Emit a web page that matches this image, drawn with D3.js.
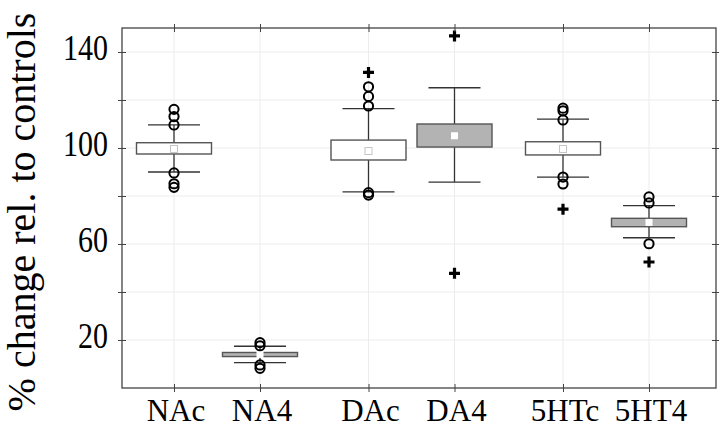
<!DOCTYPE html>
<html><head><meta charset="utf-8">
<script src="https://cdn.jsdelivr.net/npm/d3@7"></script>
<style>body{margin:0;background:#fff}svg{display:block}</style>
</head><body>
<script>
const categories = ["NAc","NA4","DAc","DA4","5HTc","5HT4"];
const boxLow   = [97.5, 13.1, 95.0, 100.4, 97.1, 67.2];
const boxHigh  = [102.2, 14.8, 103.3, 110.0, 102.6, 70.7];
const means    = [99.6, 14.0, 98.75, 105.1, 99.6, 69.0];
const whiskerLow  = [90.0, 10.6, 81.7, 85.8, 87.9, 62.6];
const whiskerHigh = [109.6, 17.4, 116.4, 125.1, 112.0, 76.0];
const outliers = [
  [116.1, 113.1, 109.6, 89.6, 85.1, 83.6],
  [18.9, 17.6, 9.6, 8.2],
  [125.5, 121.5, 117.5, 81.4, 80.4],
  [],
  [116.6, 115.5, 111.7, 87.9, 85.0],
  [79.6, 77.1, 60.1]
];
const extremes = [[], [], [131.5], [146.7, 47.8], [74.5], [52.5]];
const yTicks = [20, 40, 60, 80, 100, 120, 140];
const yTickLabels = [20, 60, 100, 140];
const yLabel = "% change rel. to controls";

const W = 720, H = 427;
const L = 122, R = 716, T = 28, B = 388;
const svg = d3.select("body").append("svg").attr("width", W).attr("height", H);

const groups = Array.from(new Set(categories.map(c => c.slice(0, -1))));
const members = Array.from(new Set(categories.map(c => c.slice(-1))));
const gx = d3.scalePoint().domain(groups).range([217, 606]);
const mx = d3.scalePoint().domain(members).range([-43, 43]);
const xOf = c => gx(c.slice(0, -1)) + mx(c.slice(-1));
const y = d3.scaleLinear().domain([0, 150]).range([B, T]);

const serif = "'Liberation Serif','Times New Roman',serif";

// grid
const grid = svg.append("g").attr("stroke", "#ececec").attr("stroke-width", 1);
grid.selectAll("line.h").data(yTicks).join("line")
  .attr("x1", L).attr("x2", R).attr("y1", d => y(d)).attr("y2", d => y(d));
grid.selectAll("line.v").data(categories).join("line")
  .attr("x1", d => xOf(d)).attr("x2", d => xOf(d)).attr("y1", T).attr("y2", B);

const data = categories.map((c, i) => ({
  c, i, treated: c.endsWith("4"), bl: boxLow[i], bh: boxHigh[i], m: means[i],
  wl: whiskerLow[i], wh: whiskerHigh[i], out: outliers[i], ext: extremes[i]
}));

const boxW = 75, capW = 52;
const g = svg.append("g").selectAll("g").data(data).join("g")
  .attr("transform", d => `translate(${xOf(d.c)},0)`);

g.append("line").attr("x1", 0).attr("x2", 0)
  .attr("y1", d => y(d.wl)).attr("y2", d => y(d.wh))
  .attr("stroke", "#333").attr("stroke-width", 1.3);
g.selectAll("line.cap").data(d => [d.wl, d.wh]).join("line")
  .attr("x1", -capW / 2).attr("x2", capW / 2)
  .attr("y1", v => y(v)).attr("y2", v => y(v))
  .attr("stroke", "#333").attr("stroke-width", 1.3);
g.append("rect")
  .attr("x", -boxW / 2).attr("width", boxW)
  .attr("y", d => y(d.bh)).attr("height", d => y(d.bl) - y(d.bh))
  .attr("fill", d => d.treated ? "#b3b3b3" : "#fff")
  .attr("stroke", "#555").attr("stroke-width", 1.4);
g.append("rect")
  .attr("x", -3.5).attr("width", 7)
  .attr("y", d => y(d.m) - 3.5).attr("height", 7)
  .attr("fill", "#fff")
  .attr("stroke", d => d.treated ? "none" : "#c4c4c4").attr("stroke-width", 1);
g.selectAll("circle").data(d => d.out).join("circle")
  .attr("cx", 0).attr("cy", v => y(v)).attr("r", 4.6)
  .attr("fill", "none").attr("stroke", "#000").attr("stroke-width", 2);
g.selectAll("path.plus").data(d => d.ext).join("path")
  .attr("d", v => `M-5.5,${y(v)}H5.5M0,${y(v) - 5.5}V${y(v) + 5.5}`)
  .attr("stroke", "#000").attr("stroke-width", 3.2);

// frame
svg.append("rect").attr("x", L).attr("y", T).attr("width", R - L).attr("height", B - T)
  .attr("fill", "none").attr("stroke", "#444").attr("stroke-width", 1.3);

// left axis
const ax = svg.append("g").attr("transform", `translate(${L},0)`)
  .call(d3.axisLeft(y).tickValues(yTicks).tickSize(4).tickPadding(10)
    .tickFormat(d => yTickLabels.includes(d) ? d : ""));
ax.select(".domain").remove();
ax.selectAll(".tick line").attr("x1", 4).attr("stroke", "#444");
ax.selectAll(".tick text").attr("font-family", serif).attr("font-size", 30)
  .attr("fill", "#000").attr("dy", "0.22em").attr("transform", "scale(1,1.2)");

// right axis
const ar = svg.append("g").attr("transform", `translate(${R},0)`)
  .call(d3.axisRight(y).tickValues(yTicks).tickSize(3).tickFormat(""));
ar.select(".domain").remove();
ar.selectAll(".tick line").attr("x1", -4).attr("stroke", "#444");

// top/bottom category ticks
const xs = d3.scaleOrdinal().domain(categories).range(categories.map(xOf));
const ab = svg.append("g").attr("transform", `translate(0,${B})`)
  .call(d3.axisBottom(xs).tickSize(4).tickFormat(""));
ab.select(".domain").remove();
ab.selectAll(".tick line").attr("y1", -4).attr("stroke", "#444");
const at = svg.append("g").attr("transform", `translate(0,${T})`)
  .call(d3.axisTop(xs).tickSize(4).tickFormat(""));
at.select(".domain").remove();
at.selectAll(".tick line").attr("y1", 4).attr("stroke", "#444");

// category labels
svg.append("g").selectAll("text").data(categories).join("text")
  .attr("x", d => xOf(d) + 2).attr("y", 421)
  .attr("text-anchor", "middle").attr("font-family", serif).attr("font-size", 31)
  .attr("fill", "#000").text(d => d);

// y label
svg.append("text").attr("transform", "translate(35,212) rotate(-90)")
  .attr("text-anchor", "middle").attr("font-family", serif).attr("font-size", 40)
  .attr("fill", "#000").text(yLabel);
</script>
</body></html>
